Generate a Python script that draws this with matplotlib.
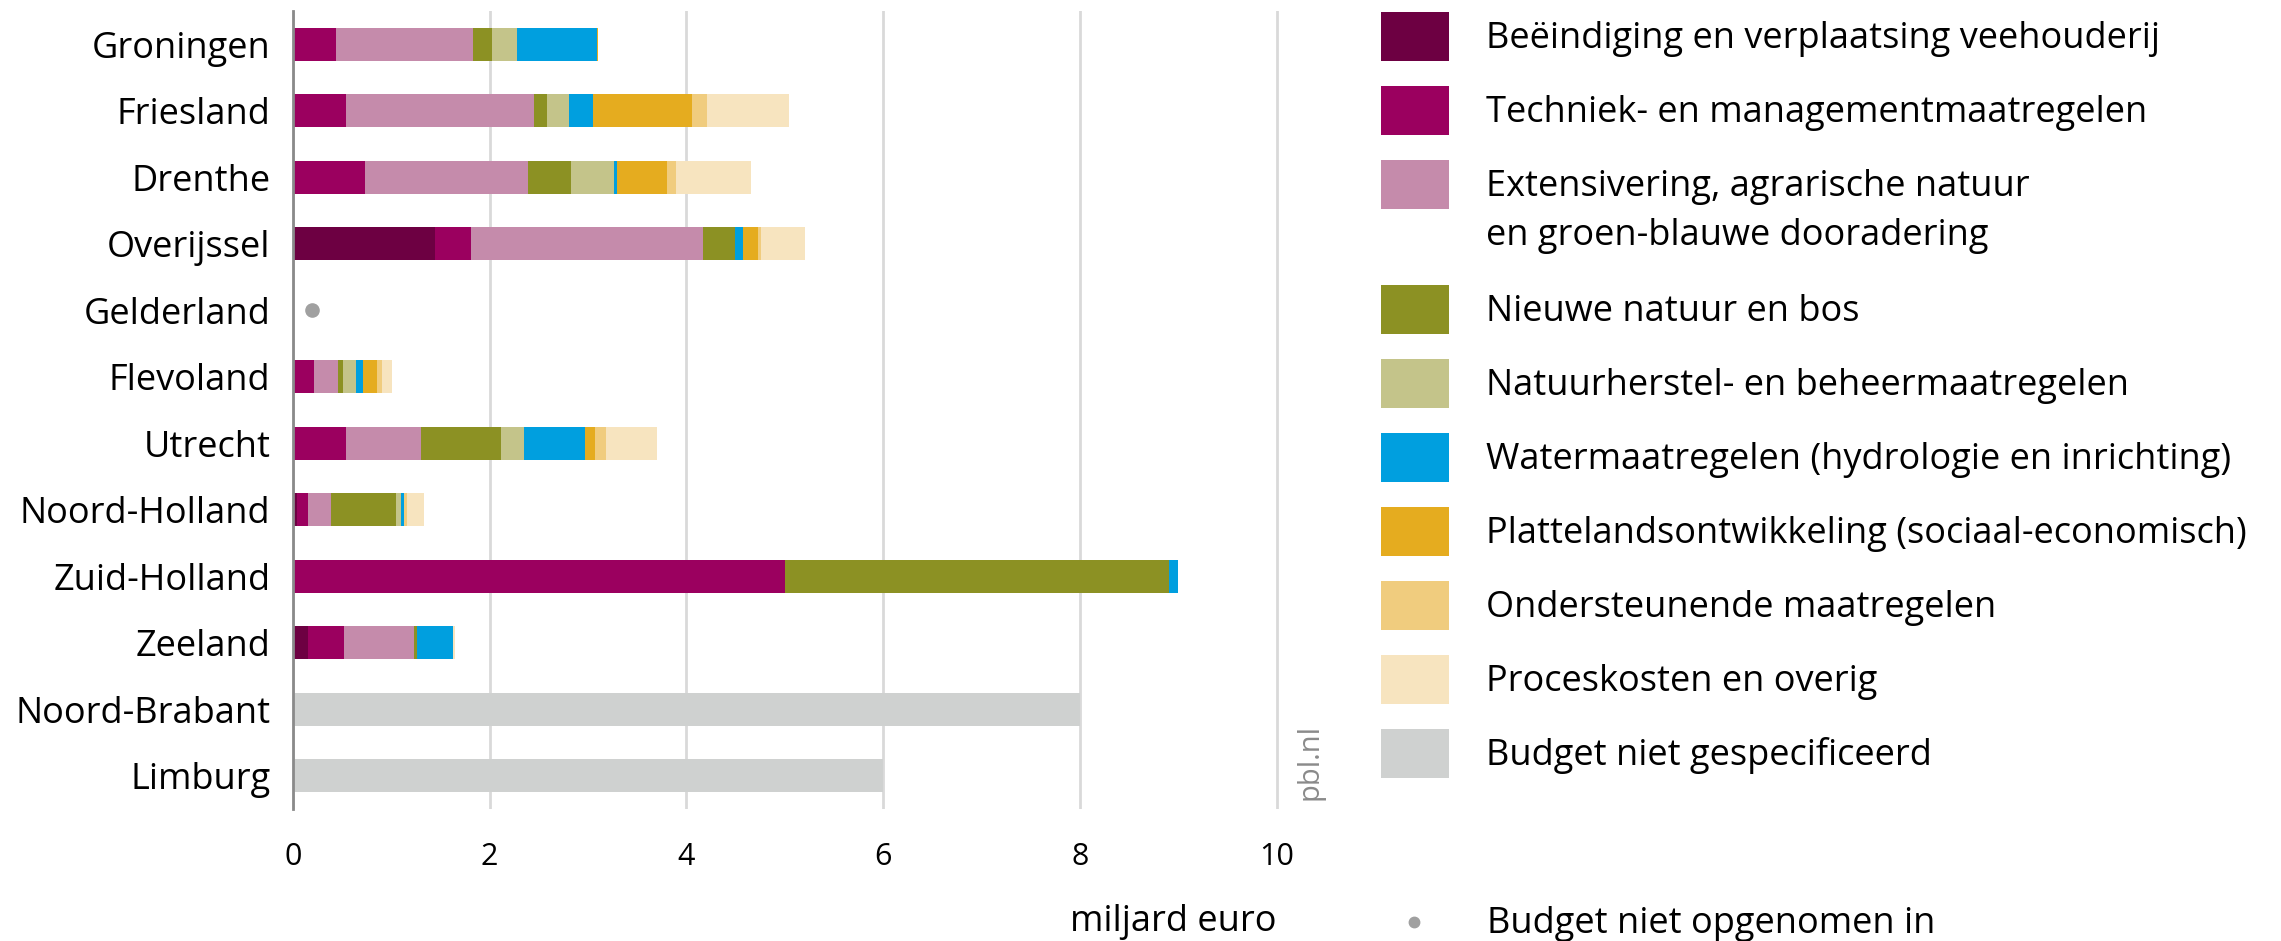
import matplotlib
matplotlib.use("Agg")
import matplotlib.pyplot as plt
from matplotlib.patches import Rectangle
import numpy as np

plt.rcParams["font.family"] = ["Open Sans", "DejaVu Sans"]

provinces = ["Groningen", "Friesland", "Drenthe", "Overijssel", "Gelderland",
             "Flevoland", "Utrecht", "Noord-Holland", "Zuid-Holland", "Zeeland",
             "Noord-Brabant", "Limburg"]

# miljard euro per maatregelcategorie
beeindiging = [0, 0, 0, 1.45, 0, 0, 0, 0.04, 0, 0.16, 0, 0]
techniek = [0.44, 0.54, 0.73, 0.36, 0, 0.22, 0.54, 0.12, 5.0, 0.36, 0, 0]
extensivering = [1.39, 1.91, 1.66, 2.36, 0, 0.24, 0.76, 0.23, 0, 0.71, 0, 0]
nieuwe_natuur = [0.20, 0.13, 0.44, 0.32, 0, 0.05, 0.82, 0.66, 3.9, 0.03, 0, 0]
natuurherstel = [0.25, 0.23, 0.43, 0, 0, 0.13, 0.23, 0.05, 0, 0, 0, 0]
water = [0.81, 0.24, 0.04, 0.09, 0, 0.07, 0.62, 0.03, 0.1, 0.37, 0, 0]
platteland = [0.01, 1.01, 0.50, 0.15, 0, 0.15, 0.10, 0, 0, 0, 0, 0]
ondersteunend = [0, 0.15, 0.09, 0.03, 0, 0.05, 0.11, 0.03, 0, 0, 0, 0]
proces = [0, 0.83, 0.77, 0.45, 0, 0.10, 0.52, 0.17, 0, 0.02, 0, 0]
niet_gespecificeerd = [0, 0, 0, 0, 0, 0, 0, 0, 0, 0, 8.0, 6.0]

# budget niet opgenomen (punt)
niet_opgenomen_prov = ["Gelderland"]
niet_opgenomen_x = [0.2]

labels = ["Beëindiging en verplaatsing veehouderij",
          "Techniek- en managementmaatregelen",
          "Extensivering, agrarische natuur\nen groen-blauwe dooradering",
          "Nieuwe natuur en bos",
          "Natuurherstel- en beheermaatregelen",
          "Watermaatregelen (hydrologie en inrichting)",
          "Plattelandsontwikkeling (sociaal-economisch)",
          "Ondersteunende maatregelen",
          "Proceskosten en overig",
          "Budget niet gespecificeerd"]
colors = ["#6d0042", "#9b005f", "#c58bab", "#8c9123", "#c4c48a",
          "#009fdf", "#e5ac1f", "#f0cc7e", "#f7e4bf", "#cfd1d0"]
series = [beeindiging, techniek, extensivering, nieuwe_natuur, natuurherstel,
          water, platteland, ondersteunend, proces, niet_gespecificeerd]

W, H = 2281, 941


def fx(px):
    return px / W


def fy(py):
    return 1 - py / H


fig = plt.figure(figsize=(W / 100, H / 100), dpi=100)
ax = fig.add_axes([fx(292.7), fy(809), fx(1326) - fx(292.7), fy(11) - fy(809)])

y = np.arange(len(provinces))
left = np.zeros(len(provinces))
for vals, col in zip(series, colors):
    ax.barh(y, vals, left=left, height=0.5, color=col, linewidth=0, zorder=3)
    left += np.array(vals)

ax.plot(niet_opgenomen_x, [provinces.index(p) for p in niet_opgenomen_prov],
        "o", color="#a0a0a0", markersize=9.5, zorder=4)

ax.set_xlim(0, 10.5)
ax.set_ylim(len(provinces) - 0.5, -0.5)
ax.set_yticks(y)
ax.set_yticklabels(provinces, fontsize=26)
ax.set_xticks([0, 2, 4, 6, 8, 10])
ax.set_xticklabels(["0", "2", "4", "6", "8", "10"], fontsize=22)
ax.tick_params(axis="y", length=0, pad=16)
ax.tick_params(axis="x", length=0, pad=24)
ax.grid(axis="x", color="#d9d9d9", linewidth=2, zorder=0)
for s in ["top", "right", "bottom"]:
    ax.spines[s].set_visible(False)
ax.spines["left"].set_color("#8a8a8a")
ax.spines["left"].set_linewidth(2)
ax.spines["left"].set_zorder(5)

ax.text(10, -0.1416, "miljard euro", transform=ax.get_xaxis_transform(),
        ha="right", va="center", fontsize=26)
ax.text(10.34, 11.37, "pbl.nl", rotation=90, ha="center", va="bottom",
        fontsize=21, color="#8a8a8a")

# legenda
ycur = 36.5
for lab, col in zip(labels, colors):
    fig.add_artist(Rectangle((fx(1381), fy(ycur + 24.5)), fx(68), 49 / H,
                             transform=fig.transFigure, color=col, linewidth=0))
    for k, line in enumerate(lab.split("\n")):
        fig.text(fx(1486), fy(ycur + 11.5 + 49 * k), line, fontsize=26,
                 va="baseline", ha="left")
    ycur += 74 + 51 * lab.count("\n")

fig.add_artist(plt.Line2D([fx(1414)], [fy(922)], marker="o", color="#a0a0a0",
                          markersize=7.5, transform=fig.transFigure))
fig.text(fx(1487), fy(922 + 11.5), "Budget niet opgenomen in", fontsize=26,
         va="baseline", ha="left")

fig.savefig("out.png", dpi=100)
